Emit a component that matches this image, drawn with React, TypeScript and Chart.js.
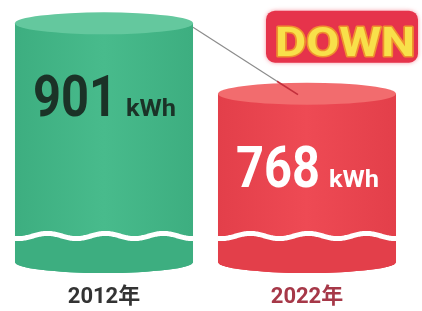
import React, { useEffect, useRef } from 'react';
import { Chart, registerables } from 'chart.js';

Chart.register(...registerables);

const categories = ['2012年', '2022年'];
const values = [901, 768];
const unit = 'kWh';
const badgeText = 'DOWN';
const axisMin = 450;
const axisMax = 945;

const bodyColors = ['#48bb8c', '#ee4a54'];
const topColors = ['#64c89e', '#f26c6e'];
const lowerColors = ['#3dae80', '#e33f4a'];
const numberColors = ['#1b3227', '#ffffff'];
const tickColors = ['#333333', '#a63848'];

function drawFit(ctx: CanvasRenderingContext2D, text: string, x: number, baseline: number, size: number, width: number, color: string) {
  ctx.save();
  ctx.font = `bold ${size}px Roboto, 'DejaVu Sans', sans-serif`;
  const w = ctx.measureText(text).width;
  ctx.translate(x, baseline);
  ctx.scale(width / w, 1);
  ctx.fillStyle = color;
  ctx.textBaseline = 'alphabetic';
  ctx.textAlign = 'left';
  ctx.fillText(text, 0, 0);
  ctx.restore();
}

const cylinderPlugin = {
  id: 'cylinders',
  afterDatasetsDraw(chart: any) {
    const ctx: CanvasRenderingContext2D = chart.ctx;
    const meta = chart.getDatasetMeta(0);
    const ry = 11;
    const base = chart.chartArea.bottom;
    meta.data.forEach((el: any, i: number) => {
      const { x, y, width } = el.getProps(['x', 'y', 'width'], true);
      const left = x - width / 2;
      const right = x + width / 2;
      const rx = width / 2;
      ctx.save();
      ctx.beginPath();
      ctx.moveTo(left, y);
      ctx.lineTo(left, base);
      ctx.ellipse(x, base, rx, ry, 0, Math.PI, 0, true);
      ctx.lineTo(right, y);
      ctx.closePath();
      const g = ctx.createLinearGradient(left, 0, right, 0);
      g.addColorStop(0, lowerColors[i]);
      g.addColorStop(0.5, bodyColors[i]);
      g.addColorStop(1, lowerColors[i]);
      ctx.fillStyle = g;
      ctx.fill();
      ctx.clip();
      const waveY = base - 26;
      ctx.fillStyle = lowerColors[i];
      ctx.fillRect(left, waveY, width, base + ry - waveY + 2);
      ctx.beginPath();
      for (let px = left - 2; px <= right + 2; px += 1) {
        const py = waveY + 2.6 * Math.sin(((px - left) / 58) * Math.PI * 2 + 1.2);
        if (px === left - 2) ctx.moveTo(px, py);
        else ctx.lineTo(px, py);
      }
      ctx.strokeStyle = '#ffffff';
      ctx.lineWidth = 5;
      ctx.stroke();
      ctx.restore();

      ctx.save();
      ctx.beginPath();
      ctx.ellipse(x, y, rx, ry, 0, 0, Math.PI * 2);
      ctx.fillStyle = topColors[i];
      ctx.fill();
      ctx.restore();

      const tx = x - 71;
      const baseline = y + 93;
      drawFit(ctx, String(values[i]), tx, baseline, 58, 84, numberColors[i]);
      drawFit(ctx, unit, tx + 93, baseline, 24, 50, numberColors[i]);
    });

    if (meta.data.length >= 2) {
      const a = meta.data[0];
      const b = meta.data[1];
      const sx = a.x + a.width / 2;
      const sy = a.y + 4;
      const ex = b.x - 9;
      const ey = b.y + 1;
      const mx = sx + (ex - sx) * 0.8;
      const my = sy + (ey - sy) * 0.8;
      ctx.save();
      ctx.lineWidth = 1.2;
      ctx.strokeStyle = '#8c8c8c';
      ctx.beginPath();
      ctx.moveTo(sx, sy);
      ctx.lineTo(mx, my);
      ctx.stroke();
      ctx.strokeStyle = '#c22f3c';
      ctx.lineWidth = 1.6;
      ctx.beginPath();
      ctx.moveTo(mx, my);
      ctx.lineTo(ex, ey);
      ctx.stroke();
      ctx.restore();

      const bx = b.x - 41;
      const by = b.y - 83;
      const bw = 152;
      const bh = 52;
      ctx.save();
      ctx.shadowColor = 'rgba(240,80,100,0.6)';
      ctx.shadowBlur = 4;
      ctx.fillStyle = '#e6334b';
      ctx.beginPath();
      (ctx as any).roundRect(bx, by, bw, bh, 9);
      ctx.fill();
      ctx.restore();
      ctx.save();
      ctx.font = `bold 40px Roboto, 'DejaVu Sans', sans-serif`;
      const w = ctx.measureText(badgeText).width;
      ctx.translate(bx + 9, by + 45);
      ctx.scale(140 / w, 1);
      ctx.lineWidth = 3;
      ctx.strokeStyle = '#f0902e';
      ctx.lineJoin = 'round';
      ctx.strokeText(badgeText, 0, 0);
      ctx.fillStyle = '#f8e04a';
      ctx.fillText(badgeText, 0, 0);
      ctx.restore();
    }
  },
};

export default function App() {
  const ref = useRef<HTMLCanvasElement>(null);
  useEffect(() => {
    document.body.style.margin = '0';
    const chart = new Chart(ref.current!, {
      type: 'bar',
      data: {
        labels: categories,
        datasets: [
          {
            data: values,
            backgroundColor: 'rgba(0,0,0,0)',
            borderWidth: 0,
            barPercentage: 1,
            categoryPercentage: 0.877,
          },
        ],
      },
      options: {
        responsive: false,
        animation: false,
        layout: { padding: { left: 2.5, right: 13.5, top: 0, bottom: 0.8 } },
        plugins: { legend: { display: false }, tooltip: { enabled: false } },
        scales: {
          x: {
            grid: { display: false, drawTicks: true, tickLength: 21.8 },
            border: { display: false },
            ticks: {
              padding: 0,
              font: { size: 22, weight: 'bold', family: "Roboto, 'Noto Sans CJK JP', sans-serif" },
              color: (c: any) => tickColors[c.index] || '#333',
            },
          },
          y: { display: false, min: axisMin, max: axisMax },
        },
      },
      plugins: [cylinderPlugin],
    });
    return () => chart.destroy();
  }, []);
  return (
    <div style={{ width: 422, height: 311, background: '#ffffff' }}>
      <canvas ref={ref} width={422} height={311} />
    </div>
  );
}
